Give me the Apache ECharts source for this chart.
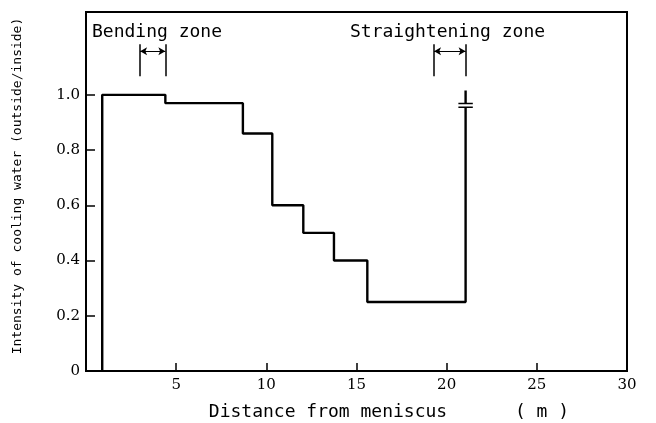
<!DOCTYPE html>
<html>
<head>
<meta charset="utf-8">
<script src="https://cdn.jsdelivr.net/npm/echarts@6/dist/echarts.min.js"></script>
<style>
  html, body { margin: 0; padding: 0; background: #fff; }
  #zhu { width: 656px; height: 423px; }
</style>
</head>
<body>
<div id="zhu"></div>
<script>
// step edges (m) and the level that starts at each edge
var edges = [0.9, 4.4, 8.7, 10.33, 12.05, 13.75, 15.6, 21.05];
var levels = [1.0, 0.97, 0.86, 0.6, 0.5, 0.4, 0.25];
// break mark on the last riser
var breakLow = 0.955;
var breakHigh = 0.969;
var breakTop = 1.016;
// zone brackets
var bendZone = [3.0, 4.4];
var straightZone = [19.3, 21.05];
var bracketY = [1.067, 1.183];
var arrowY = 1.158;
// ticks
var xTicks = [5, 10, 15, 20, 25];
var xLabels = [5, 10, 15, 20, 25, 30];
var yTicks = [0.2, 0.4, 0.6, 0.8, 1.0];
var yLabels = [0, 0.2, 0.4, 0.6, 0.8, 1.0];

var pts = [[edges[0], 0]];
for (var i = 0; i < levels.length; i++) {
  pts.push([edges[i], levels[i]]);
}
pts.push([edges[edges.length - 1], breakLow]);

var xEnd = edges[edges.length - 1];
var lineStyle = { color: '#000', width: 2.4 };

function bracketLines(z) {
  return [
    [{ coord: [z[0], bracketY[0]] }, { coord: [z[0], bracketY[1]] }],
    [{ coord: [z[1], bracketY[0]] }, { coord: [z[1], bracketY[1]] }]
  ];
}

var mono = 'DejaVu Sans Mono';

var option = {
  animation: false,
  grid: {
    left: 86, right: 29, top: 12, bottom: 52,
    show: true, borderColor: '#000', borderWidth: 2
  },
  xAxis: {
    type: 'value', min: 0, max: 30,
    axisLine: { show: false },
    splitLine: { show: false },
    axisTick: { show: true, inside: true, length: 8, customValues: xTicks, lineStyle: { color: '#000', width: 1.5 } },
    axisLabel: {
      customValues: xLabels, margin: 7,
      color: '#000', fontFamily: 'DejaVu Serif', fontSize: 15
    }
  },
  yAxis: {
    type: 'value', min: 0, max: 1.3,
    axisLine: { show: false },
    splitLine: { show: false },
    axisTick: { show: true, inside: true, length: 9, customValues: yTicks, lineStyle: { color: '#000', width: 1.5 } },
    axisLabel: {
      customValues: yLabels, margin: 6,
      color: '#000', fontFamily: 'DejaVu Serif', fontSize: 15,
      formatter: function (v) { return v === 0 ? '0' : v.toFixed(1); }
    }
  },
  series: [
    {
      type: 'line', step: 'end', data: pts,
      symbol: 'none', lineStyle: lineStyle
    },
    {
      type: 'line', data: [[xEnd, breakHigh], [xEnd, breakTop]],
      symbol: 'none', lineStyle: lineStyle
    },
    {
      type: 'line', data: [[xEnd - 0.4, breakHigh], [xEnd + 0.4, breakHigh]],
      symbol: 'none', lineStyle: { color: '#000', width: 1.5 }
    },
    {
      type: 'line', data: [[xEnd - 0.4, breakLow], [xEnd + 0.4, breakLow]],
      symbol: 'none', lineStyle: { color: '#000', width: 1.5 }
    },
    {
      type: 'line', data: [],
      markLine: {
        silent: true, symbol: 'none', label: { show: false },
        lineStyle: { color: '#000', width: 1.5, type: 'solid' },
        data: bracketLines(bendZone).concat(bracketLines(straightZone))
      }
    },
    {
      type: 'line', data: [],
      markLine: {
        silent: true, symbol: ['arrow', 'arrow'], symbolSize: [6, 7],
        label: { show: false },
        lineStyle: { color: '#000', width: 1, type: 'solid' },
        data: [
          [{ coord: [bendZone[0], arrowY] }, { coord: [bendZone[1], arrowY] }],
          [{ coord: [straightZone[0], arrowY] }, { coord: [straightZone[1], arrowY] }]
        ]
      }
    }
  ],
  graphic: [
    {
      type: 'text', left: 92, top: 23,
      style: { text: 'Bending zone', fontFamily: mono, fontSize: 18, fill: '#000' }
    },
    {
      type: 'text', left: 350, top: 23,
      style: { text: 'Straightening zone', fontFamily: mono, fontSize: 18, fill: '#000' }
    },
    {
      type: 'text', x: 18, y: 186, rotation: Math.PI / 2,
      style: {
        text: 'Intensity of cooling water (outside/inside)',
        fontFamily: mono, fontSize: 13, fill: '#000',
        align: 'center', verticalAlign: 'middle'
      }
    },
    {
      type: 'text', x: 328, y: 412,
      style: {
        text: 'Distance from meniscus', fontFamily: mono, fontSize: 18, fill: '#000',
        align: 'center', verticalAlign: 'middle'
      }
    },
    {
      type: 'text', x: 542, y: 412,
      style: {
        text: '( m )', fontFamily: mono, fontSize: 18, fill: '#000',
        align: 'center', verticalAlign: 'middle'
      }
    }
  ]
};

var myChart = echarts.init(document.getElementById('zhu'));
myChart.setOption(option);
</script>
</body>
</html>
